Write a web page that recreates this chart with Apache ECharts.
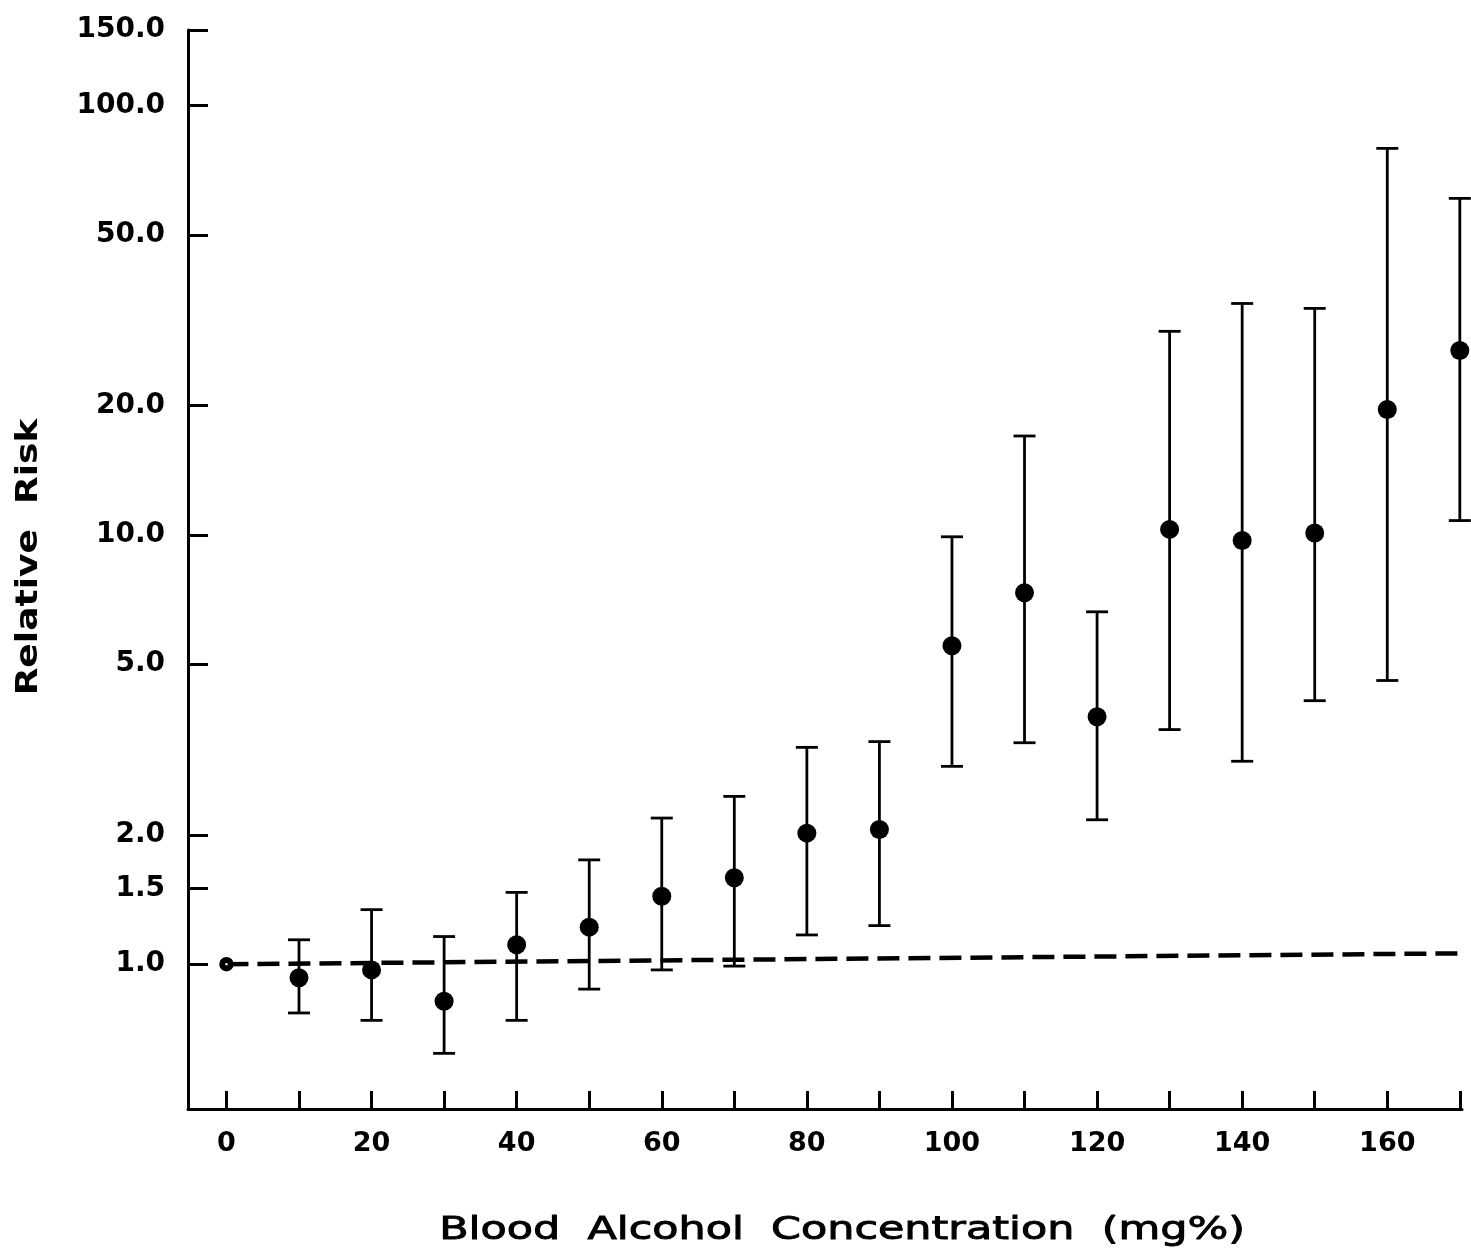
<!DOCTYPE html>
<html>
<head>
<meta charset="utf-8">
<title>Relative Risk by Blood Alcohol Concentration</title>
<script src="https://cdn.jsdelivr.net/npm/echarts@6/dist/echarts.min.js"></script>
<style>
  html, body { margin: 0; padding: 0; background: #fff; }
  #chart { width: 1471px; height: 1253px; }
</style>
</head>
<body>
<div id="chart"></div>
<script>
// Blood alcohol concentration (mg%) at each measured level
const bac = [0, 10, 20, 30, 40, 50, 60, 70, 80, 90, 100, 110, 120, 130, 140, 150, 160, 170];
// Relative risk estimate at each level
const relRisk = [1.0, 0.93, 0.97, 0.82, 1.11, 1.22, 1.44, 1.59, 2.02, 2.06, 5.52, 7.33, 3.77, 10.3, 9.7, 10.1, 19.6, 26.9];
// Confidence interval bounds (none for the reference level)
const ciLow = [null, 0.77, 0.74, 0.62, 0.74, 0.875, 0.97, 0.99, 1.17, 1.23, 2.89, 3.28, 2.17, 3.52, 2.97, 4.11, 4.58, 10.8];
const ciHigh = [null, 1.14, 1.34, 1.16, 1.47, 1.75, 2.19, 2.46, 3.2, 3.3, 9.9, 17.0, 6.62, 29.8, 34.6, 33.7, 79.5, 60.8];
// Baseline reference line endpoints
const baseX = [0, 170];
const baseY = [1.0, 1.06];
// Axis tick values
const yTicks = [1, 1.5, 2, 5, 10, 20, 50, 100, 150];
const xTicks = [0, 10, 20, 30, 40, 50, 60, 70, 80, 90, 100, 110, 120, 130, 140, 150, 160, 170];
const xLabels = [0, 20, 40, 60, 80, 100, 120, 140, 160];
// Axis titles
const xTitle = 'Blood  Alcohol  Concentration  (mg%)';
const yTitle = 'Relative  Risk';

const font = 'DejaVu Sans';

const pointData = bac.map((x, i) => [x, relRisk[i]]);
const barData = [];
bac.forEach((x, i) => {
  if (ciLow[i] != null) barData.push([x, ciLow[i], ciHigh[i]]);
});

const chart = echarts.init(document.getElementById('chart'), null, { renderer: 'canvas' });

chart.setOption({
  backgroundColor: '#fff',
  animation: false,
  grid: { left: 188, right: 9, top: 30, bottom: 144, containLabel: false },
  // Axis titles are drawn as widely-tracked text, like typewriter lettering
  graphic: [
    {
      type: 'text',
      x: 842, y: 1231,
      scaleX: 1.34,
      style: {
        text: xTitle, fill: '#000', stroke: '#000', lineWidth: 0.9,
        align: 'center', verticalAlign: 'middle',
        font: 'normal 32px "DejaVu Sans"'
      }
    },
    {
      type: 'text',
      x: 29, y: 557,
      rotation: Math.PI / 2,
      scaleX: 1.2,
      style: {
        text: yTitle, fill: '#000', align: 'center', verticalAlign: 'middle',
        font: 'bold 30px "DejaVu Sans"'
      }
    }
  ],
  xAxis: {
    type: 'value',
    min: -5.3,
    max: 170.3,
    axisLine: { show: true, onZero: false, lineStyle: { color: '#000', width: 3 } },
    axisTick: { show: true, inside: true, length: 18, lineStyle: { color: '#000', width: 3 }, customValues: xTicks },
    axisLabel: {
      show: true, margin: 21, fontFamily: font, fontSize: 27, fontWeight: 'bold', color: '#000',
      customValues: xLabels, formatter: v => String(v)
    },
    splitLine: { show: false }
  },
  yAxis: {
    type: 'log',
    logBase: 10,
    min: 0.46,
    max: 150,
    axisLine: { show: true, onZero: false, lineStyle: { color: '#000', width: 3 } },
    axisTick: { show: true, inside: true, length: 20, lineStyle: { color: '#000', width: 3 }, customValues: yTicks },
    axisLabel: {
      show: true, margin: 23, fontFamily: font, fontSize: 28, fontWeight: 'bold', color: '#000',
      customValues: yTicks, formatter: v => Number(v).toFixed(1)
    },
    splitLine: { show: false },
    minorTick: { show: false }
  },
  series: [
    {
      name: 'baseline',
      type: 'line',
      data: baseX.map((x, i) => [x, baseY[i]]),
      symbol: 'none',
      lineStyle: { color: '#000', width: 4.5, type: [22, 9], opacity: 1 },
      z: 2
    },
    {
      name: 'ci',
      type: 'custom',
      data: barData,
      encode: { x: 0, y: [1, 2] },
      renderItem: (params, api) => {
        const x = api.value(0);
        const lo = api.coord([x, api.value(1)]);
        const hi = api.coord([x, api.value(2)]);
        const cap = 11;
        const style = { stroke: '#000', lineWidth: 2.8 };
        return {
          type: 'group',
          children: [
            { type: 'line', shape: { x1: lo[0], y1: lo[1], x2: hi[0], y2: hi[1] }, style },
            { type: 'line', shape: { x1: hi[0] - cap, y1: hi[1], x2: hi[0] + cap, y2: hi[1] }, style },
            { type: 'line', shape: { x1: lo[0] - cap, y1: lo[1], x2: lo[0] + cap, y2: lo[1] }, style }
          ]
        };
      },
      z: 3
    },
    {
      name: 'risk',
      type: 'scatter',
      data: pointData.map((p, i) => i === 0
        ? { value: p, symbolSize: 8.5, itemStyle: { color: '#fff', borderColor: '#000', borderWidth: 6, opacity: 1 } }
        : { value: p }),
      symbol: 'circle',
      symbolSize: 19,
      itemStyle: { color: '#000', opacity: 1 },
      emphasis: { disabled: true },
      z: 4
    }
  ]
});
</script>
</body>
</html>
